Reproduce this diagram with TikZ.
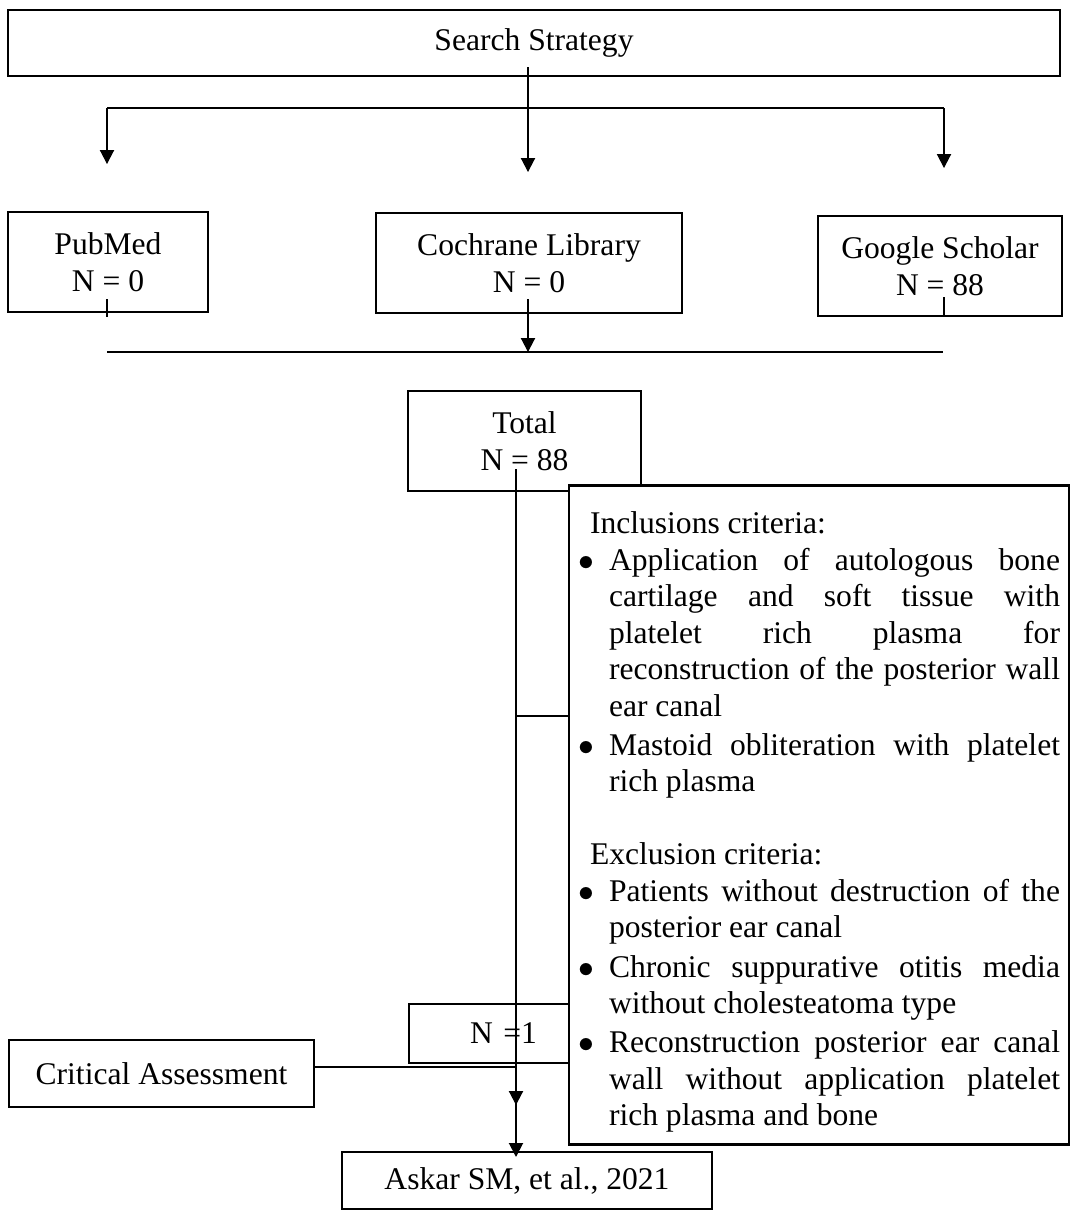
\documentclass[tikz,border=0pt]{standalone}
\usepackage{fontspec}
\setmainfont{Liberation Serif}
\usetikzlibrary{arrows.meta}

\newcommand{\pxu}{0.38pt}
\newcommand{\critem}[1]{\par\vspace{1.1pt}\noindent\hangindent=11.78pt\hangafter=1\makebox[11.78pt][l]{$\bullet$}#1\par}
\newcommand{\crhead}[1]{\par\noindent\hspace*{4.56pt}#1\par\vspace{-1.1pt}}

\begin{document}
\begin{tikzpicture}[
    x=0.38pt, y=-0.38pt,
    box/.style={rectangle, draw=black, fill=white, line width=0.8pt, align=center, inner sep=0pt, font=\fontsize{12pt}{14.06pt}\selectfont},
    conn/.style={line width=0.45pt},
    arr/.style={conn, -{Triangle[length=5.3pt, width=5.4pt]}},
    ]
        \useasboundingbox (0,0) rectangle (1073,1210);

        \node[box, minimum width=1052*\pxu, minimum height=66*\pxu] (search) at (534,43) {Search Strategy};
        \node[box, minimum width=200*\pxu, minimum height=100*\pxu] (pubmed) at (108,262) {PubMed\\N = 0};
        \node[box, minimum width=306*\pxu, minimum height=100*\pxu] (cochrane) at (529,263) {Cochrane Library\\N = 0};
        \node[box, minimum width=244*\pxu, minimum height=100*\pxu] (google) at (940,266) {Google Scholar\\N = 88};
        \node[box, minimum width=233*\pxu, minimum height=100*\pxu] (total) at (524.5,441) {Total\\N = 88};

        \node[box, minimum width=500*\pxu, minimum height=659*\pxu, inner xsep=9*\pxu, text width=482*\pxu, align=justify, font=\fontsize{12pt}{13.85pt}\selectfont] (crit) at (819,815) {%
            \tolerance=10000\hbadness=10000
            \crhead{Inclusions criteria:}
            \critem{Application of autologous bone\linebreak cartilage and soft tissue with\linebreak platelet rich plasma for\linebreak reconstruction of the posterior wall\linebreak ear canal}
            \critem{Mastoid obliteration with platelet\linebreak rich plasma}
            \vspace{\baselineskip}
            \crhead{Exclusion criteria:}
            \critem{Patients without destruction of the\linebreak posterior ear canal}
            \critem{Chronic suppurative otitis media\linebreak without cholesteatoma type}
            \critem{Reconstruction posterior ear canal\linebreak wall without application platelet\linebreak rich plasma and bone}};

        \node[box, minimum width=160*\pxu, minimum height=59*\pxu, text width=96*\pxu, align=right] (nOne) at (489,1033.5) {N =1};
        \node[box, minimum width=305*\pxu, minimum height=67*\pxu] (critical) at (161.5,1073.5) {Critical Assessment};
        \node[box, minimum width=370*\pxu, minimum height=57*\pxu] (askar) at (527,1180.5) {Askar SM, et al., 2021};

        \coordinate (s0) at (528,67);
        \coordinate (split) at (528,108);
        \coordinate (splitL) at (107,108);
        \coordinate (splitR) at (944,108);
        \coordinate (tipL) at (107,164);
        \coordinate (tipM) at (528,172);
        \coordinate (tipR) at (944,168);
        \coordinate (pmA) at (107,299);
        \coordinate (pmB) at (107,317);
        \coordinate (coA) at (528,299);
        \coordinate (gsA) at (944,297);
        \coordinate (gsB) at (944,317);
        \coordinate (mergeL) at (107,352);
        \coordinate (mergeR) at (943,352);
        \coordinate (t0) at (516,469);
        \coordinate (br) at (516,716);
        \coordinate (tipN) at (516,1105);
        \coordinate (junc) at (516,1067);

        \draw[conn] (s0) -- (split);
        \draw[conn] (splitL) -- (splitR);
        \draw[arr] (splitL) -- (tipL);
        \draw[arr] (split) -- (tipM);
        \draw[arr] (splitR) -- (tipR);

        \draw[conn] (pmA) -- (pmB);
        \draw[conn] (gsA) -- (gsB);
        \draw[arr] (coA) -- (coA |- mergeL);
        \draw[conn] (mergeL) -- (mergeR);

        \draw[arr] (t0) -- (tipN);
        \draw[conn] (br) -- (br -| crit.west);
        \draw[conn] (critical.east |- junc) -- (junc);
        \draw[arr] (junc) -- ([yshift=-6*\pxu]junc |- askar.north);
    \end{tikzpicture}
\end{document}
